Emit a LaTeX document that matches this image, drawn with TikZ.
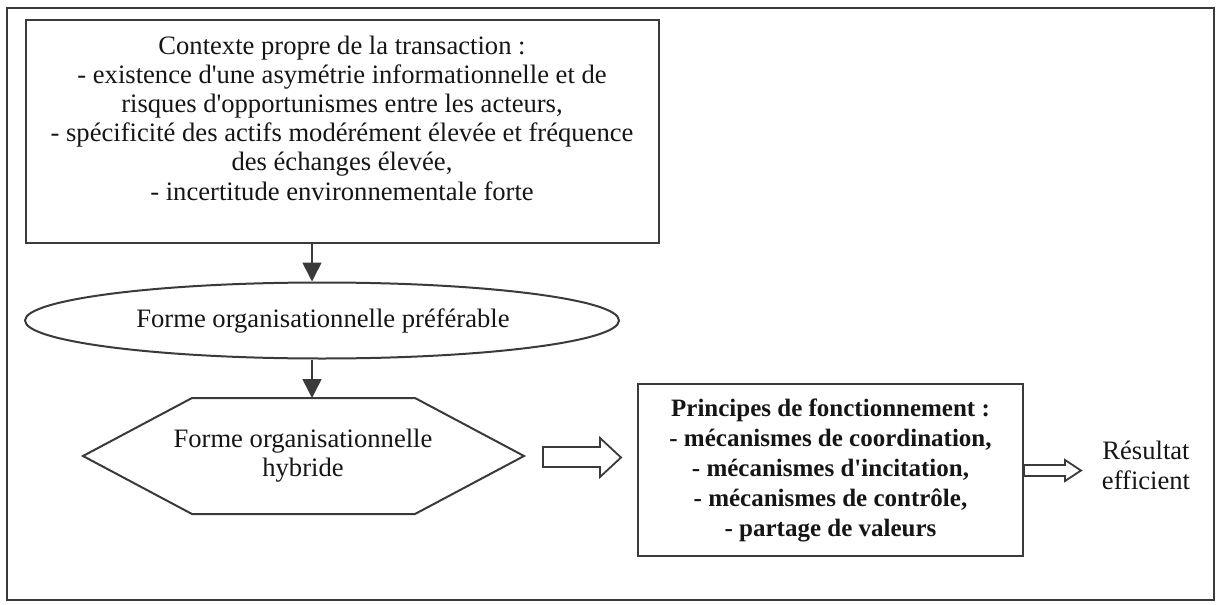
\documentclass[tikz,border=0pt]{standalone}
\usepackage{fontspec}
\setmainfont{Liberation Serif}[Ligatures=TeXOff]
\usetikzlibrary{arrows.meta,shapes.geometric,calc}
\definecolor{ln}{HTML}{3A3A3A}
\definecolor{tx}{HTML}{151515}
\begin{document}
\begin{tikzpicture}[x=0.5pt,y=-0.5pt,
  every node/.style={text=tx,font=\fontsize{13.3pt}{14.6pt}\selectfont},
  boxst/.style={draw=ln,line width=1pt,inner sep=0pt},
  arr/.style={draw=ln,line width=0.8pt,-{Triangle[length=9.5pt,width=9.5pt]}},
  hollow/.style={draw=ln,line width=0.9pt,fill=white,line join=miter}]
\useasboundingbox (0,0) rectangle (1218,604);
% outer frame
\node[boxst,minimum width=603.5pt,minimum height=296pt] (frame) at (610.5,304) {};
% context box
\node[boxst,minimum width=316.5pt,minimum height=111.5pt] (ctx) at (342.5,131.5) {};
\node[align=center,inner sep=0pt] (ctxtext) at (342,118) {Contexte propre de la transaction :\\
- existence d'une asymétrie informationnelle et de\\
risques d'opportunismes entre les acteurs,\\
- spécificité des actifs modérément élevée et fréquence\\
des échanges élevée,\\
- incertitude environnementale forte};
% ellipse
\node[boxst,ellipse,minimum width=297pt,minimum height=38pt] (ell) at (322,320.5) {};
\node[inner sep=0pt] (elltext) at (323,321) {Forme organisationnelle préférable};
% hexagon
\coordinate (hl) at (83,456);
\coordinate (htl) at (192,398);
\coordinate (htr) at (415,398);
\coordinate (hr) at (524,456);
\coordinate (hbr) at (415,514);
\coordinate (hbl) at (192,514);
\draw[draw=ln,line width=1pt,line join=miter] (hl) -- (htl) -- (htr) -- (hr) -- (hbr) -- (hbl) -- cycle;
\node[align=center,inner sep=0pt] (hex) at (303,456) {Forme organisationnelle\\hybride};
% principles box
\node[boxst,minimum width=192.5pt,minimum height=86pt,align=center,
  font=\bfseries\fontsize{12.5pt}{15pt}\selectfont] (prin) at (830.5,470) {Principes de fonctionnement :\\
- mécanismes de coordination,\\
- mécanismes d'incitation,\\
- mécanismes de contrôle,\\
- partage de valeurs};
% result
\node[align=center,inner sep=0pt,font=\fontsize{13.3pt}{15pt}\selectfont] (res) at (1146,465) {Résultat\\efficient};
% vertical arrows
\coordinate (ax) at (312,0);
\draw[arr] (ctx.south -| ax) -- (ell.north -| ax);
\draw[arr] (ell.south -| ax) -- (htl -| ax);
% hollow arrows
\draw[hollow] (543,447) -- (600,447) -- (600,438) -- (621,457.5) -- (600,477) -- (600,467) -- (543,467) -- cycle;
\draw[hollow] (prin.east |- 0,465) -- (1065,465) -- (1065,460) -- (1081,470.5) -- (1065,481) -- (1065,476) -- (prin.east |- 0,476) -- cycle;
\end{tikzpicture}
\end{document}
